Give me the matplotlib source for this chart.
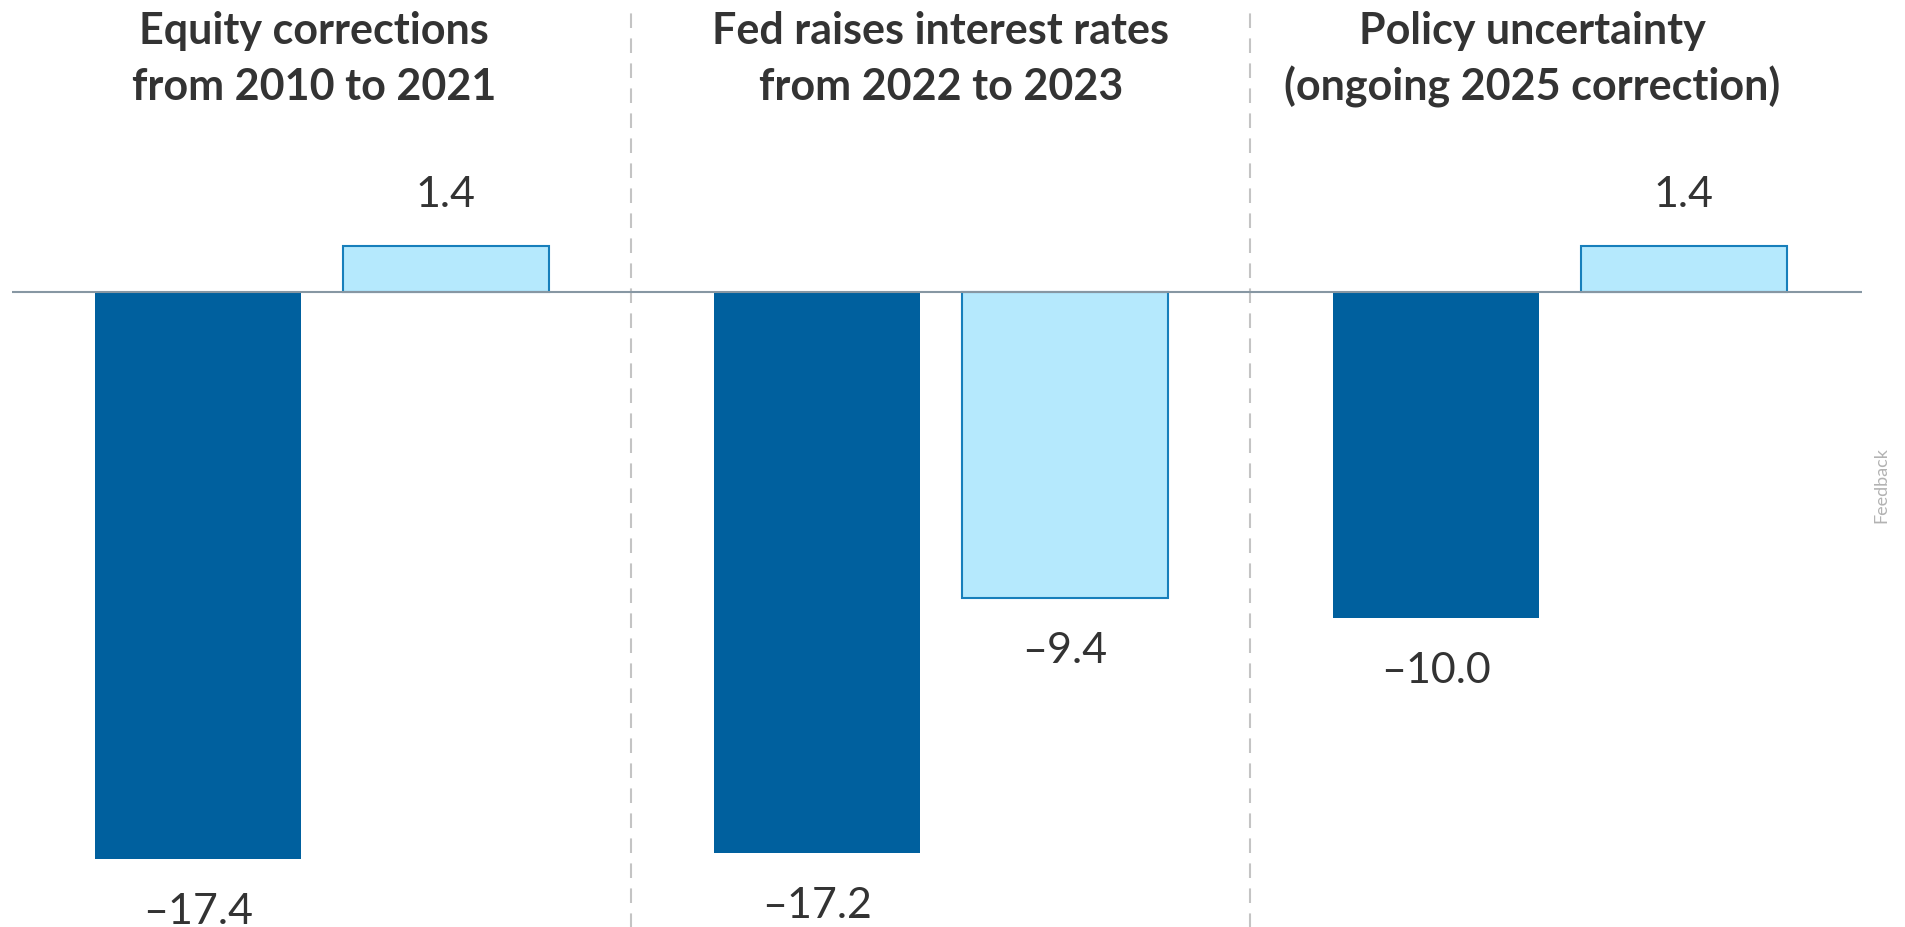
import matplotlib.pyplot as plt
import numpy as np

# data
titles = ["Equity corrections\nfrom 2010 to 2021",
          "Fed raises interest rates\nfrom 2022 to 2023",
          "Policy uncertainty\n(ongoing 2025 correction)"]
series_dark = [-17.4, -17.2, -10.0]
series_light = [1.4, -9.4, 1.4]

dark = "#00609e"
light_fill = "#b5e9fd"
light_edge = "#177fbb"
txt = "#333333"

fig = plt.figure(figsize=(19.06, 9.27), dpi=100)
ax = fig.add_axes([0, 0, 1, 1])
ax.set_xlim(-0.7997, 6.898)
ax.set_ylim(-19.47, 8.94)
ax.axis("off")

gap = 2.5  # distance between groups
xg = np.arange(len(titles)) * gap
w = 0.832

ax.bar(xg, series_dark, width=w, color=dark, zorder=2)
ax.bar(xg + 1, series_light, width=w, color=light_fill, edgecolor=light_edge,
       linewidth=1.5, zorder=2)

# zero line
ax.hlines(0, -0.75, 6.72, color="#8797a3", linewidth=1.5, zorder=3)

# separators between panels
for i in range(len(titles) - 1):
    ax.vlines(xg[i] + 1.75, -19.5, 8.57, color="#c4c4c4", linewidth=1.5,
              linestyles=(0, (7, 5)), zorder=1)

# value labels
lab_font = dict(family=["Lato", "DejaVu Sans"], fontweight="normal", fontsize=31, color=txt)
for xs, vals in [(xg, series_dark), (xg + 1, series_light)]:
    for x, v in zip(xs, vals):
        s = f"{v:.1f}".replace("-", "\u2013")
        off = 28 if v > 0 else -46.5
        ax.annotate(s, (x, v), xytext=(0, off), textcoords="offset points",
                    ha="center", va="baseline", **lab_font)

# panel titles, two lines each
title_x = [0.47, 3.0, 5.39]
for tx, t in zip(title_x, titles):
    l1, l2 = t.split("\n")
    fig.text((198 + 247.6 * tx) / 1906, 1 - 44 / 927, l1, ha="center", va="baseline",
             fontsize=31, fontweight="bold", color=txt, family=["Lato", "DejaVu Sans"])
    fig.text((198 + 247.6 * tx) / 1906, 1 - 100 / 927, l2, ha="center", va="baseline",
             fontsize=31, fontweight="bold", color=txt, family=["Lato", "DejaVu Sans"])

fig.text(1881 / 1906, 1 - 485 / 927, "Feedback", rotation=90, ha="center", va="center",
         fontsize=13, color="#b3b3b3", family=["Lato", "DejaVu Sans"])

fig.savefig("out.png", dpi=100)
